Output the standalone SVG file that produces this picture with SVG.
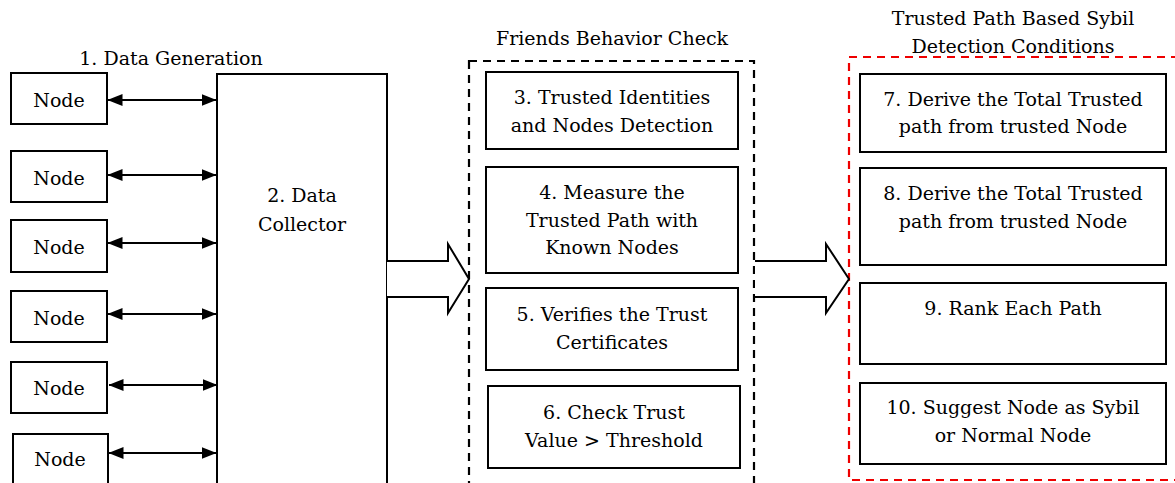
<svg xmlns="http://www.w3.org/2000/svg" width="1175" height="483" viewBox="0 0 1175 483">
<style>
.box{fill:#fff;stroke:#000;stroke-width:2}
.con{stroke:#000;stroke-width:2.2;fill:none}
.big{fill:#fff;stroke:#000;stroke-width:2;stroke-linejoin:miter}
text{font-family:"DejaVu Serif",serif;font-size:19px;fill:#000;text-anchor:middle}
</style>
<defs>
<marker id="ah" viewBox="0 0 15 12" refX="14.5" refY="6" markerWidth="15" markerHeight="12" markerUnits="userSpaceOnUse" orient="auto-start-reverse">
<path d="M0,0 L15,6 L0,12 Z" fill="#000"/>
</marker>
</defs>
<rect width="1175" height="483" fill="#fff"/>
<text x="171" y="65">1. Data Generation</text>
<text x="612" y="45">Friends Behavior Check</text>
<text x="1013" y="25">Trusted Path Based Sybil</text>
<text x="1013" y="53">Detection Conditions</text>
<g id="group-friends">
<rect x="469" y="61" width="285" height="440" fill="none" stroke="#000" stroke-width="2.2" stroke-dasharray="8,6"/>
</g>
<g id="group-sybil">
<rect x="849" y="57" width="340" height="423" fill="none" stroke="#e00" stroke-width="2.2" stroke-dasharray="8,6"/>
</g>
<g id="node1"><rect class="box" x="11" y="73" width="96" height="51"/><text x="59" y="107">Node</text></g>
<g id="node2"><rect class="box" x="11" y="151" width="96" height="51"/><text x="59" y="185">Node</text></g>
<g id="node3"><rect class="box" x="11" y="220" width="96" height="52"/><text x="59" y="254">Node</text></g>
<g id="node4"><rect class="box" x="11" y="291" width="96" height="51"/><text x="59" y="325">Node</text></g>
<g id="node5"><rect class="box" x="11" y="362" width="96" height="51"/><text x="59" y="395">Node</text></g>
<g id="node6"><rect class="box" x="13" y="434" width="95" height="60"/><text x="60" y="466">Node</text></g>
<g id="collector"><rect class="box" x="217" y="74" width="170" height="420"/><text x="302" y="202">2. Data</text><text x="302" y="231">Collector</text></g>
<g id="step3"><rect class="box" x="486" y="72" width="252" height="77"/><text x="612" y="104">3. Trusted Identities</text><text x="612" y="132">and Nodes Detection</text></g>
<g id="step4"><rect class="box" x="486" y="167" width="252" height="106"/><text x="612" y="199">4. Measure the</text><text x="612" y="227">Trusted Path with</text><text x="612" y="254">Known Nodes</text></g>
<g id="step5"><rect class="box" x="486" y="288" width="252" height="82"/><text x="612" y="321">5. Verifies the Trust</text><text x="612" y="349">Certificates</text></g>
<g id="step6"><rect class="box" x="488" y="386" width="252" height="82"/><text x="614" y="419">6. Check Trust</text><text x="614" y="447">Value &gt; Threshold</text></g>
<g id="step7"><rect class="box" x="860" y="74" width="306" height="78"/><text x="1013" y="106">7. Derive the Total Trusted</text><text x="1013" y="133">path from trusted Node</text></g>
<g id="step8"><rect class="box" x="860" y="168" width="306" height="97"/><text x="1013" y="200">8. Derive the Total Trusted</text><text x="1013" y="228">path from trusted Node</text></g>
<g id="step9"><rect class="box" x="860" y="283" width="306" height="81"/><text x="1013" y="315">9. Rank Each Path</text></g>
<g id="step10"><rect class="box" x="860" y="383" width="306" height="81"/><text x="1013" y="414">10. Suggest Node as Sybil</text><text x="1013" y="442">or Normal Node</text></g>
<g id="connectors">
<line class="con" x1="108" y1="100" x2="216" y2="100" marker-start="url(#ah)" marker-end="url(#ah)"/>
<line class="con" x1="108" y1="175" x2="216" y2="175" marker-start="url(#ah)" marker-end="url(#ah)"/>
<line class="con" x1="108" y1="243" x2="216" y2="243" marker-start="url(#ah)" marker-end="url(#ah)"/>
<line class="con" x1="108" y1="314" x2="216" y2="314" marker-start="url(#ah)" marker-end="url(#ah)"/>
<line class="con" x1="109" y1="385" x2="217" y2="385" marker-start="url(#ah)" marker-end="url(#ah)"/>
<line class="con" x1="109" y1="453" x2="216" y2="453" marker-start="url(#ah)" marker-end="url(#ah)"/>
<path class="big" d="M387,261 L448,261 L448,244 L469,279 L448,313 L448,297 L387,297"/>
<path class="big" d="M755,261 L826,261 L826,244 L849,279 L826,313 L826,297 L755,297"/>
</g>
</svg>
